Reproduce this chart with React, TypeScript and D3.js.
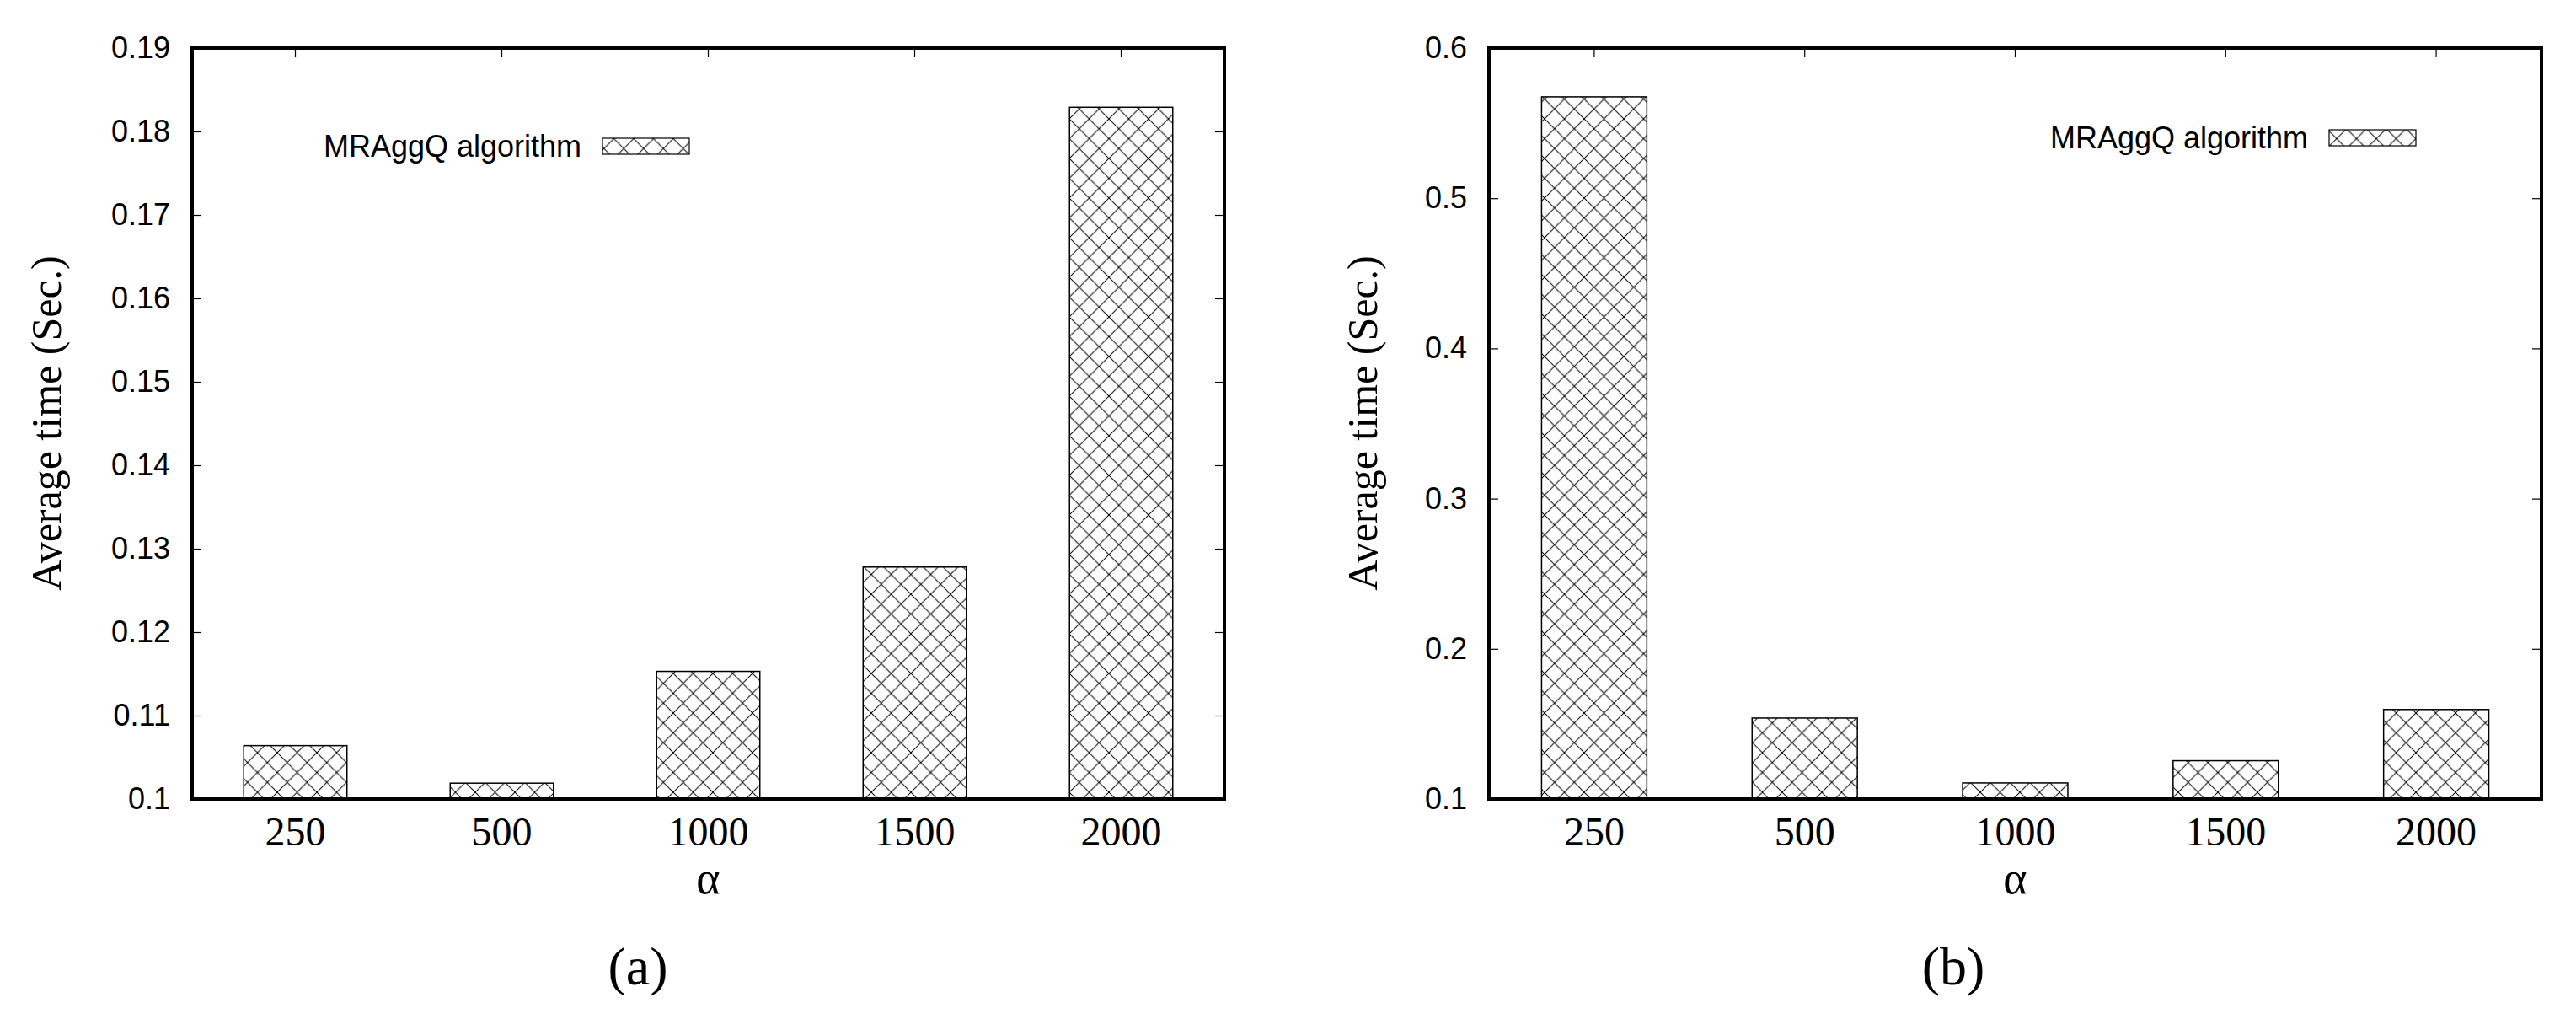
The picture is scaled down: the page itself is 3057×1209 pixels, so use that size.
import React, { useEffect, useRef } from 'react';
import * as d3 from 'd3';

// alpha values on the x axis
const alphaLabels = ['250', '500', '1000', '1500', '2000'];

// average time (sec.)
const timesA = [0.1064, 0.1019, 0.1153, 0.1278, 0.1829];
const timesB = [0.5675, 0.1539, 0.1107, 0.1255, 0.1596];

const yTicksA = [0.1, 0.11, 0.12, 0.13, 0.14, 0.15, 0.16, 0.17, 0.18, 0.19];
const yTicksB = [0.1, 0.2, 0.3, 0.4, 0.5, 0.6];

const seriesName = 'MRAggQ algorithm';
const yTitle = 'Average time (Sec.)';
const xTitle = 'α';

const SANS = '"Liberation Sans", Arial, Helvetica, sans-serif';
const SERIF = '"Liberation Serif", "Times New Roman", Times, serif';

type Panel = {
  values: number[];
  ticks: number[];
  domain: [number, number];
  left: number;
  right: number;
  titleX: number;
  legendX: number;
  legendY: number;
  caption: string;
  captionX: number;
};

const panels: Panel[] = [
  {
    values: timesA, ticks: yTicksA, domain: [0.1, 0.19],
    left: 228, right: 1453, titleX: 72,
    legendX: 715, legendY: 164, caption: '(a)', captionX: 757,
  },
  {
    values: timesB, ticks: yTicksB, domain: [0.1, 0.6],
    left: 1767, right: 3016, titleX: 1634,
    legendX: 2764, legendY: 154, caption: '(b)', captionX: 2318,
  },
];

const top = 57, bottom = 948;

function drawPanel(svg: d3.Selection<SVGSVGElement, unknown, null, undefined>, p: Panel) {
  const x = d3.scaleBand().domain(alphaLabels).range([p.left, p.right]).padding(0);
  const y = d3.scaleLinear().domain(p.domain).range([bottom, top]);
  const g = svg.append('g');

  // bars
  const bw = x.bandwidth() * 0.5;
  g.selectAll('rect.bar')
    .data(p.values)
    .enter()
    .append('rect')
      .attr('class', 'bar')
      .attr('x', (d, i) => (x(alphaLabels[i]) as number) + (x.bandwidth() - bw) / 2)
      .attr('y', d => y(d))
      .attr('width', bw)
      .attr('height', d => bottom - y(d))
      .attr('fill', 'url(#xhatch)')
      .attr('stroke', 'black')
      .attr('stroke-width', 1.5);

  // y ticks + labels
  const yAxis = g.append('g')
    .attr('transform', `translate(${p.left},0)`)
    .call(d3.axisLeft(y).tickValues(p.ticks).tickSize(-11).tickPadding(26)
      .tickFormat(d => String(+(+d).toFixed(2))));
  yAxis.select('.domain').remove();
  yAxis.selectAll('line').attr('stroke', 'black').attr('stroke-width', 1.2);
  yAxis.selectAll('text').attr('font-family', SANS).attr('font-size', 36).attr('fill', 'black');

  // mirrored y ticks on the right
  const yRight = g.append('g')
    .attr('transform', `translate(${p.right},0)`)
    .call(d3.axisRight(y).tickValues(p.ticks).tickSize(-11).tickFormat(() => ''));
  yRight.select('.domain').remove();
  yRight.selectAll('line').attr('stroke', 'black').attr('stroke-width', 1.2);

  // mirrored x ticks on top
  const xTop = g.append('g')
    .attr('transform', `translate(0,${top})`)
    .call(d3.axisTop(x).tickSize(-11).tickFormat(() => ''));
  xTop.select('.domain').remove();
  xTop.selectAll('line').attr('stroke', 'black').attr('stroke-width', 1.2);

  // x labels
  const xAxis = g.append('g')
    .attr('transform', `translate(0,${bottom})`)
    .call(d3.axisBottom(x).tickSize(0).tickPadding(21));
  xAxis.select('.domain').remove();
  xAxis.selectAll('text').attr('font-family', SERIF).attr('font-size', 48).attr('fill', 'black');

  // frame
  g.append('rect')
    .attr('x', p.left)
    .attr('y', top)
    .attr('width', p.right - p.left)
    .attr('height', bottom - top)
    .attr('fill', 'none')
    .attr('stroke', 'black')
    .attr('stroke-width', 4);

  // legend
  g.append('text')
    .attr('x', p.legendX - 25)
    .attr('y', p.legendY + 22)
    .attr('text-anchor', 'end')
    .attr('font-family', SANS)
    .attr('font-size', 36)
    .text(seriesName);
  g.append('rect')
    .attr('x', p.legendX)
    .attr('y', p.legendY)
    .attr('width', 103)
    .attr('height', 19)
    .attr('fill', 'url(#xhatch)')
    .attr('stroke', 'black')
    .attr('stroke-width', 1.2);

  // axis titles
  g.append('text')
    .attr('transform', `translate(${p.titleX},${(top + bottom) / 2 - 0.5}) rotate(-90)`)
    .attr('text-anchor', 'middle')
    .attr('font-family', SERIF)
    .attr('font-size', 50)
    .text(yTitle);
  g.append('text')
    .attr('x', (p.left + p.right) / 2)
    .attr('y', 1060)
    .attr('text-anchor', 'middle')
    .attr('font-family', SERIF)
    .attr('font-size', 54)
    .text(xTitle);

  // caption
  g.append('text')
    .attr('x', p.captionX)
    .attr('y', 1168)
    .attr('text-anchor', 'middle')
    .attr('font-family', SERIF)
    .attr('font-size', 64)
    .text(p.caption);
}

export default function App() {
  const ref = useRef<SVGSVGElement>(null);

  useEffect(() => {
    const svg = d3.select(ref.current as SVGSVGElement);
    svg.selectAll('*').remove();

    const s = 23.5;
    svg.append('defs')
      .append('pattern')
        .attr('id', 'xhatch')
        .attr('patternUnits', 'userSpaceOnUse')
        .attr('width', s)
        .attr('height', s)
      .append('path')
        .attr('d', `M-2,-2L${s + 2},${s + 2}M${s + 2},-2L-2,${s + 2}`)
        .attr('stroke', 'black')
        .attr('stroke-width', 1)
        .attr('fill', 'none');

    panels.forEach(p => drawPanel(svg, p));
  }, []);

  return (
    <svg
      ref={ref}
      width={3057}
      height={1209}
      style={{ position: 'absolute', left: 0, top: 0, background: 'white' }}
    />
  );
}
